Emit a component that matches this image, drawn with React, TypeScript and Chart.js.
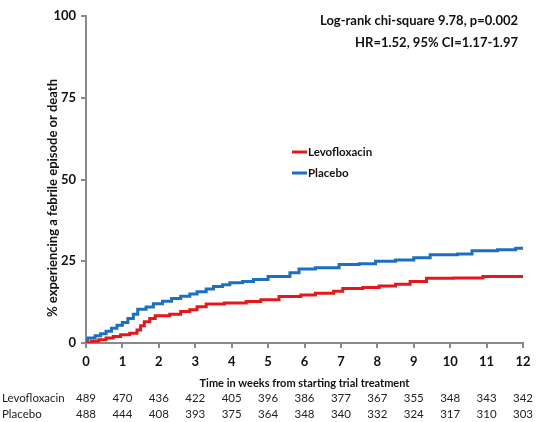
import React, { useEffect, useRef } from "react";
import { Chart, registerables } from "chart.js";

Chart.register(...registerables);

const levoWeeks = [0, 0.15, 0.35, 0.55, 0.75, 0.95, 1.2, 1.4, 1.5, 1.6, 1.75, 1.9, 2.3, 2.6, 2.85, 3.05, 3.3, 3.8, 4.4, 4.8, 5.3, 5.9, 6.3, 6.8, 7.05, 7.6, 8.05, 8.5, 8.9, 9.35, 10.1, 10.9, 12];
const levoPct = [0, 0.5, 1.0, 1.5, 2.0, 2.5, 3.0, 4.0, 5.3, 6.5, 7.5, 8.3, 8.8, 9.6, 10.2, 11.1, 11.9, 12.2, 12.7, 13.2, 14.2, 14.7, 15.2, 15.8, 16.7, 17.0, 17.4, 18.0, 18.8, 19.8, 19.9, 20.3, 20.3];

const placeboWeeks = [0, 0.05, 0.25, 0.4, 0.55, 0.7, 0.85, 1.0, 1.15, 1.3, 1.42, 1.65, 1.85, 2.1, 2.35, 2.6, 2.85, 3.05, 3.3, 3.5, 3.75, 3.95, 4.3, 4.6, 5.0, 5.6, 5.85, 6.3, 6.95, 7.5, 7.95, 8.5, 9.0, 9.45, 10.2, 10.6, 11.3, 11.8, 12];
const placeboPct = [0, 1.5, 2.2, 2.8, 3.6, 4.5, 5.4, 6.3, 7.5, 8.8, 10.3, 11.0, 12.0, 12.8, 13.6, 14.3, 15.0, 15.7, 16.5, 17.3, 17.8, 18.4, 18.8, 19.4, 20.3, 21.5, 22.6, 23.0, 24.0, 24.2, 25.0, 25.4, 26.1, 27.0, 27.2, 28.2, 28.5, 29.0, 29.1];

const seriesNames = ["Levofloxacin", "Placebo"];
const seriesColors = ["#e3181d", "#1d6fc1"];
const riskWeeks = [0, 1, 2, 3, 4, 5, 6, 7, 8, 9, 10, 11, 12];
const levoAtRisk = [489, 470, 436, 422, 405, 396, 386, 377, 367, 355, 348, 343, 342];
const placeboAtRisk = [488, 444, 408, 393, 375, 364, 348, 340, 332, 324, 317, 310, 303];

const yTitle = "% experiencing a febrile episode or death";
const xTitle = "Time in weeks from starting trial treatment";
const statLines = ["Log-rank chi-square 9.78, p=0.002", "HR=1.52, 95% CI=1.17-1.97"];

const FONT = "Lato, 'Open Sans', sans-serif";

const overlayPlugin = {
  id: "overlay",
  afterDraw(chart: any) {
    const { ctx, scales } = chart;
    const xs = scales.x;
    ctx.save();
    // y title
    ctx.save();
    ctx.translate(53, 198);
    ctx.rotate(-Math.PI / 2);
    ctx.font = `bold 13px ${FONT}`;
    ctx.fillStyle = "#111";
    ctx.textAlign = "center";
    ctx.textBaseline = "middle";
    ctx.fillText(yTitle, 0, 0);
    ctx.restore();

    // stats text
    ctx.font = `bold 13px ${FONT}`;
    ctx.fillStyle = "#111";
    ctx.textAlign = "right";
    ctx.textBaseline = "middle";
    ctx.fillText(statLines[0], 518, 21);
    ctx.fillText(statLines[1], 518, 43);

    // legend
    const legendY = [152, 173];
    seriesNames.forEach((name, i) => {
      ctx.strokeStyle = seriesColors[i];
      ctx.lineWidth = 3;
      ctx.beginPath();
      ctx.moveTo(292, legendY[i]);
      ctx.lineTo(307, legendY[i]);
      ctx.stroke();
      ctx.font = `bold 11.5px ${FONT}`;
      ctx.fillStyle = "#111";
      ctx.textAlign = "left";
      ctx.textBaseline = "middle";
      ctx.fillText(name, 308, legendY[i]);
    });

    // number at risk table
    const rows = [levoAtRisk, placeboAtRisk];
    const rowY = [398, 414];
    ctx.font = `11.5px ${FONT}`;
    ctx.fillStyle = "#222";
    ctx.textBaseline = "middle";
    rows.forEach((vals, r) => {
      ctx.textAlign = "left";
      ctx.fillText(seriesNames[r], 2, rowY[r]);
      ctx.textAlign = "center";
      vals.forEach((v, i) => {
        ctx.fillText(String(v), xs.getPixelForValue(riskWeeks[i]), rowY[r]);
      });
    });
    ctx.restore();
  },
};

export default function App() {
  const ref = useRef<HTMLCanvasElement | null>(null);
  useEffect(() => {
    if (!ref.current) return;
    const toPts = (w: number[], p: number[]) => w.map((x, i) => ({ x, y: p[i] }));
    const chart = new Chart(ref.current, {
      type: "line",
      data: {
        datasets: [
          {
            label: seriesNames[0],
            data: toPts(levoWeeks, levoPct),
            borderColor: seriesColors[0],
            borderWidth: 3,
            pointRadius: 0,
            stepped: true,
            fill: false,
          },
          {
            label: seriesNames[1],
            data: toPts(placeboWeeks, placeboPct),
            borderColor: seriesColors[1],
            borderWidth: 3,
            pointRadius: 0,
            stepped: true,
            fill: false,
          },
        ],
      },
      options: {
        animation: false,
        responsive: false,
        maintainAspectRatio: false,
        events: [],
        layout: { padding: { top: 16, right: 14, left: 0, bottom: 0 } },
        plugins: { legend: { display: false }, tooltip: { enabled: false } },
        scales: {
          x: {
            type: "linear",
            min: 0,
            max: 12,
            afterFit: (s: any) => {
              s.height = 79;
            },
            ticks: {
              stepSize: 1,
              color: "#111",
              font: { family: FONT, size: 13, weight: "bold" },
              padding: 6,
              maxRotation: 0,
            },
            grid: { drawOnChartArea: false, drawTicks: true, tickLength: 5, color: "#8a8a8a", lineWidth: 2 },
            border: { color: "#8a8a8a", width: 2 },
            title: {
              display: true,
              text: xTitle,
              color: "#111",
              font: { family: FONT, size: 11, weight: "bold" },
              padding: { top: 2, bottom: 32 },
            },
          },
          y: {
            min: 0,
            max: 100,
            afterFit: (s: any) => {
              s.width = 86;
            },
            ticks: {
              stepSize: 25,
              color: "#111",
              font: { family: FONT, size: 13, weight: "bold" },
              padding: 5,
            },
            grid: { drawOnChartArea: false, drawTicks: true, tickLength: 5, color: "#8a8a8a", lineWidth: 2 },
            border: { color: "#8a8a8a", width: 2 },
          },
        },
      },
      plugins: [overlayPlugin],
    });
    return () => chart.destroy();
  }, []);
  return (
    <div style={{ position: "fixed", left: 0, top: 0, width: 537, height: 422, background: "#fff" }}>
      <canvas ref={ref} width={537} height={422} style={{ width: 537, height: 422 }} />
    </div>
  );
}
